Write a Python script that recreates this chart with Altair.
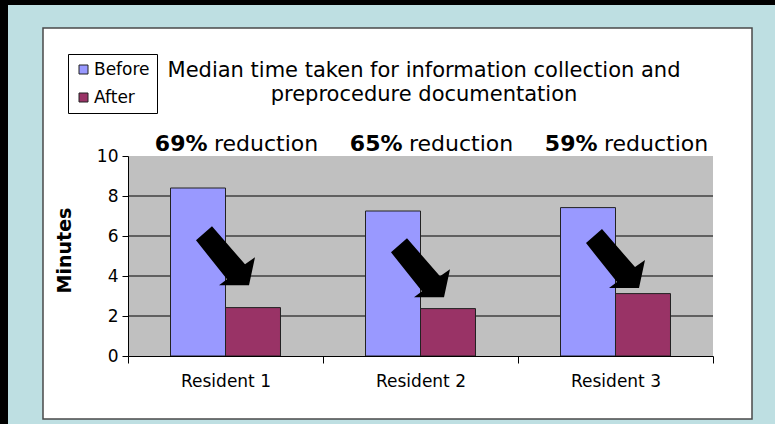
import altair as alt
import pandas as pd

# ---- data ----
residents = ["Resident 1", "Resident 2", "Resident 3"]
series = ["Before", "After"]
before = [8.4, 7.25, 7.42]
after = [2.42, 2.37, 3.12]
reductions = ["69%", "65%", "59%"]
y_ticks = [0, 2, 4, 6, 8, 10]
grid_values = [2, 4, 6, 8]
title_line1 = "Median time taken for information collection and"
title_line2 = "preprocedure documentation"

# ---- styles ----
colors = ["#9999FF", "#993366"]
FONT = "DejaVu Sans"
TEAL = "#BEDFE2"
W, H = 585, 200

long_df = pd.DataFrame(
    [{"resident": r, "series": "Before", "minutes": b} for r, b in zip(residents, before)]
    + [{"resident": r, "series": "After", "minutes": a} for r, a in zip(residents, after)]
)
wide_df = pd.DataFrame({"resident": residents, "before": before, "after": after, "pct": reductions})
grid_df = pd.DataFrame({"g": grid_values})
one = alt.Data(values=[{"k": 1}])

ARROW = "M -1 -0.525 L -0.458 -1 L 0.661 0.288 L 1 0.051 L 0.797 1 L -0.22 1 L 0.051 0.797 Z"

x_axis = alt.Axis(title=None, labelAngle=0, labelFontSize=17, labelFont=FONT,
                  labelColor="black", labelPadding=10, ticks=True, tickSize=7,
                  tickWidth=1, tickColor="black", tickOpacity=1,
                  domain=True, domainColor="black", domainWidth=1,
                  tickBand="extent", grid=False, zindex=1)
y_axis = alt.Axis(title="Minutes", values=y_ticks, labelFontSize=17, labelFont=FONT,
                  labelColor="black", labelPadding=4, tickSize=6, tickColor="black",
                  domainColor="black", grid=False, zindex=1,
                  titleFont=FONT, titleFontSize=19, titleFontWeight="bold",
                  titleColor="black", titlePadding=22, titleY=94)
# full-width bands (boundaries at the tick marks); bars sit in the middle of each band
x_scale = alt.Scale(paddingInner=0, paddingOuter=0)
off_scale = alt.Scale(paddingInner=0, paddingOuter=0.773)
y_scale = alt.Scale(domain=[0, 10], nice=False)


def X():
    return alt.X("resident:N", sort=residents, scale=x_scale, axis=x_axis)


def Y(field):
    return alt.Y(field, scale=y_scale, axis=y_axis, title="Minutes")


# decoration: black frame strips, white panel, gray plot area
black_left = alt.Chart(one).mark_rect(color="black").encode(
    x=alt.value(-128), x2=alt.value(-120), y=alt.value(-156), y2=alt.value(268))
black_top = alt.Chart(one).mark_rect(color="black").encode(
    x=alt.value(-128), x2=alt.value(647), y=alt.value(-156), y2=alt.value(-151))
panel = alt.Chart(one).mark_rect(fill="white", stroke="#4a4a4a", strokeWidth=1.5).encode(
    x=alt.value(-85), x2=alt.value(624), y=alt.value(-128), y2=alt.value(263))
plot_bg = alt.Chart(one).mark_rect(fill="#C0C0C0").encode(
    x=alt.value(0), x2=alt.value(W), y=alt.value(0), y2=alt.value(H))

grid = alt.Chart(grid_df).mark_rule(color="black", strokeWidth=1).encode(
    y=Y("g:Q"))

bars = alt.Chart(long_df).mark_bar(stroke="#222", strokeWidth=1).encode(
    x=X(),
    xOffset=alt.XOffset("series:N", sort=series, scale=off_scale),
    y=Y("minutes:Q"),
    color=alt.Color("series:N", scale=alt.Scale(domain=series, range=colors),
                    legend=alt.Legend(orient="none", legendX=-60, legendY=-102, title=None,
                                      padding=7, rowPadding=10, strokeColor="black",
                                      fillColor="white", symbolType="square", symbolSize=81,
                                      symbolStrokeColor="#222", symbolStrokeWidth=1,
                                      labelFontSize=17, labelFont=FONT, labelColor="black",
                                      labelOffset=2, cornerRadius=0)),
)

arrows = alt.Chart(wide_df).transform_calculate(
    ay="(datum.before + datum.after) / 2 - 0.4"
).mark_point(shape=ARROW, filled=True, fill="black", strokeWidth=0, size=3481, opacity=1).encode(
    x=X(),
    y=Y("ay:Q"),
)

pct_bold = alt.Chart(wide_df).mark_text(
    align="right", baseline="alphabetic", dx=-18, font=FONT, fontWeight="bold",
    fontSize=22, color="black").encode(
    x=X(), y=alt.value(-5), text="pct:N")
pct_word = alt.Chart(wide_df).mark_text(
    align="left", baseline="alphabetic", dx=-11.5, font=FONT, fontSize=22,
    color="black").encode(
    x=X(), y=alt.value(-5), text=alt.value("reduction"))

t1 = alt.Chart(one).mark_text(align="center", baseline="alphabetic", font=FONT,
                              fontSize=21, color="black").encode(
    x=alt.value(296), y=alt.value(-79), text=alt.value(title_line1))
t2 = alt.Chart(one).mark_text(align="center", baseline="alphabetic", font=FONT,
                              fontSize=21, color="black").encode(
    x=alt.value(296), y=alt.value(-55), text=alt.value(title_line2))

chart = alt.layer(
    black_left, black_top, panel, plot_bg, grid, bars, arrows, pct_bold, pct_word, t1, t2
).properties(
    width=W, height=H,
    autosize=alt.AutoSizeParams(type="none"),
    padding={"left": 128, "top": 156, "right": 62, "bottom": 68},
    background=TEAL,
).configure_view(stroke=None)

chart.save("out.html", embed_options={"renderer": "svg", "actions": False})
